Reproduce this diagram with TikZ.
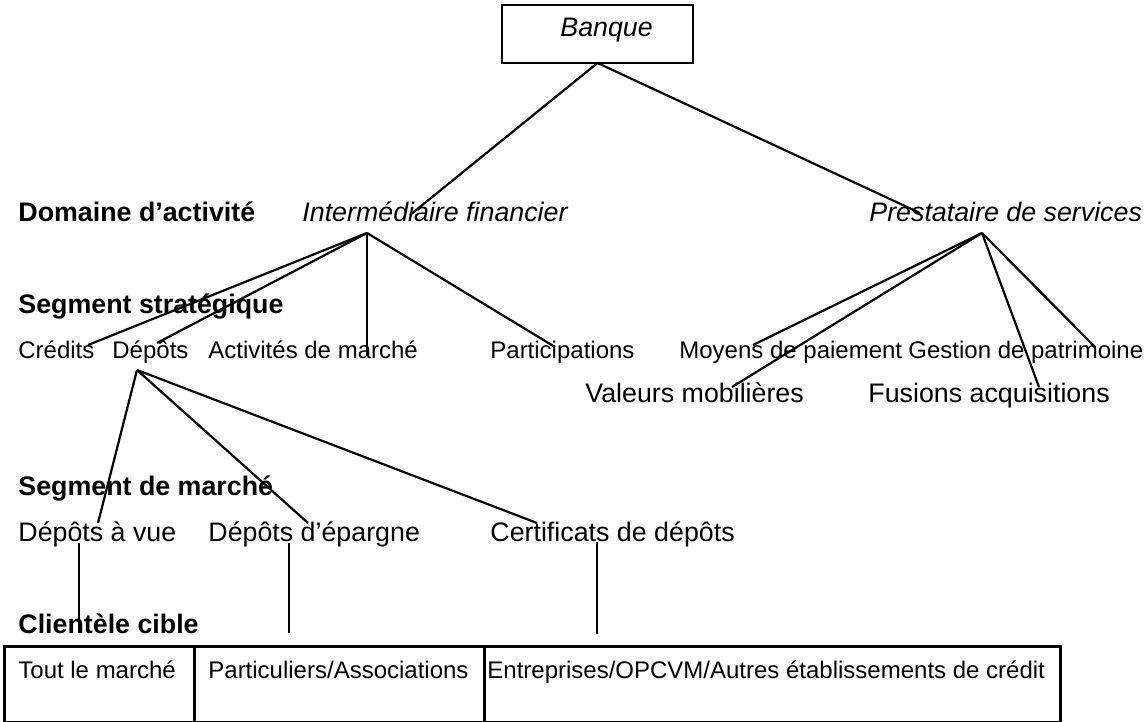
\documentclass[tikz,border=0pt]{standalone}
\usepackage{fontspec}
\setmainfont{Liberation Sans}
\begin{document}
\begin{tikzpicture}[x=0.5pt,y=-0.5pt,
  big/.style={inner sep=0pt, anchor=base west, font=\fontsize{13.4}{16}\selectfont},
  bigb/.style={inner sep=0pt, anchor=base west, font=\fontsize{13.4}{16}\selectfont\bfseries},
  bigi/.style={inner sep=0pt, anchor=base west, font=\fontsize{13.4}{16}\selectfont\itshape},
  small/.style={inner sep=0pt, anchor=base west, font=\fontsize{12}{14}\selectfont},
  link/.style={line width=1.1pt},
  box/.style={draw, line width=1.4pt, inner sep=0pt, anchor=north west, minimum height=38pt}]
\useasboundingbox (0,0) rectangle (1146,722);

% Banque
\node[draw, line width=1.4pt, minimum width=95.5pt, minimum height=29pt, inner sep=0pt] (bqbox) at (597.5,34) {};
\node[bigi] (banque) at (560,37) {Banque};

% level titles
\node[bigb] (t1) at (18,221) {Domaine d’activité};
\node[bigb] (t2) at (18,313) {Segment stratégique};
\node[bigb] (t3) at (18,495) {Segment de marché};
\node[bigb] (t4) at (18,633) {Clientèle cible};

% domaines
\node[bigi] (inter) at (302,221) {Intermédiaire financier};
\node[bigi] (prest) at (869,221) {Prestataire de services};

% segments stratégiques
\node[small] (cred) at (18,358) {Crédits};
\node[small] (depo) at (112,358) {Dépôts};
\node[small] (activ) at (208,358) {Activités de marché};
\node[small] (partic) at (490,358) {Participations};
\node[small] (moyens) at (679,358) {Moyens de paiement};
\node[small] (gestion) at (908,358) {Gestion de patrimoine};
\node[big] (valeurs) at (585,402) {Valeurs mobilières};
\node[big] (fusions) at (868,402) {Fusions acquisitions};

% segments de marché
\node[big] (vue) at (18,541) {Dépôts à vue};
\node[big] (epargne) at (208,541) {Dépôts d’épargne};
\node[big] (certif) at (490,541) {Certificats de dépôts};

% clientèle table
\node[box, minimum width=95pt] (c1) at (3,645) {};
\node[box, minimum width=145pt] (c2) at (193,645) {};
\node[box, minimum width=288pt] (c3) at (483,645) {};
\node[small] (tout) at (18,678) {Tout le marché};
\node[small] (partasso) at (208,678) {Particuliers/Associations};
\node[small] (entre) at (487,678) {Entreprises/OPCVM/Autres établissements de crédit};

% connector points
\coordinate (bq) at (597.5,63);
\coordinate (hubIF) at (367,233);
\coordinate (hubPS) at (982,233);
\coordinate (hubD) at (137,370);
\coordinate (eIF) at (410,215);
\coordinate (ePS) at (920,213);
\coordinate (eCred) at (88,345);
\coordinate (eDepo) at (157,343);
\coordinate (eActiv) at (367,355);
\coordinate (ePart) at (555,347);
\coordinate (eMoy) at (753,345);
\coordinate (eVal) at (732,387);
\coordinate (eFus) at (1039,387);
\coordinate (eGest) at (1095,347);
\coordinate (eVue) at (98,523);
\coordinate (eEpar) at (308,523);
\coordinate (eCert) at (537,523);
\coordinate (vA) at (79,543);
\coordinate (vB) at (79,633);
\coordinate (eA) at (289,543);
\coordinate (eB) at (289,633);
\coordinate (cA) at (597,542);
\coordinate (cB) at (597,634);

\draw[link] (eIF) -- (bq) -- (ePS);
\draw[link] (hubIF) -- (eCred);
\draw[link] (hubIF) -- (eDepo);
\draw[link] (hubIF) -- (eActiv);
\draw[link] (hubIF) -- (ePart);
\draw[link] (hubPS) -- (eMoy);
\draw[link] (hubPS) -- (eVal);
\draw[link] (hubPS) -- (eFus);
\draw[link] (hubPS) -- (eGest);
\draw[link] (hubD) -- (eVue);
\draw[link] (hubD) -- (eEpar);
\draw[link] (hubD) -- (eCert);
\draw[link] (vA) -- (vB);
\draw[link] (eA) -- (eB);
\draw[link] (cA) -- (cB);
\end{tikzpicture}
\end{document}
